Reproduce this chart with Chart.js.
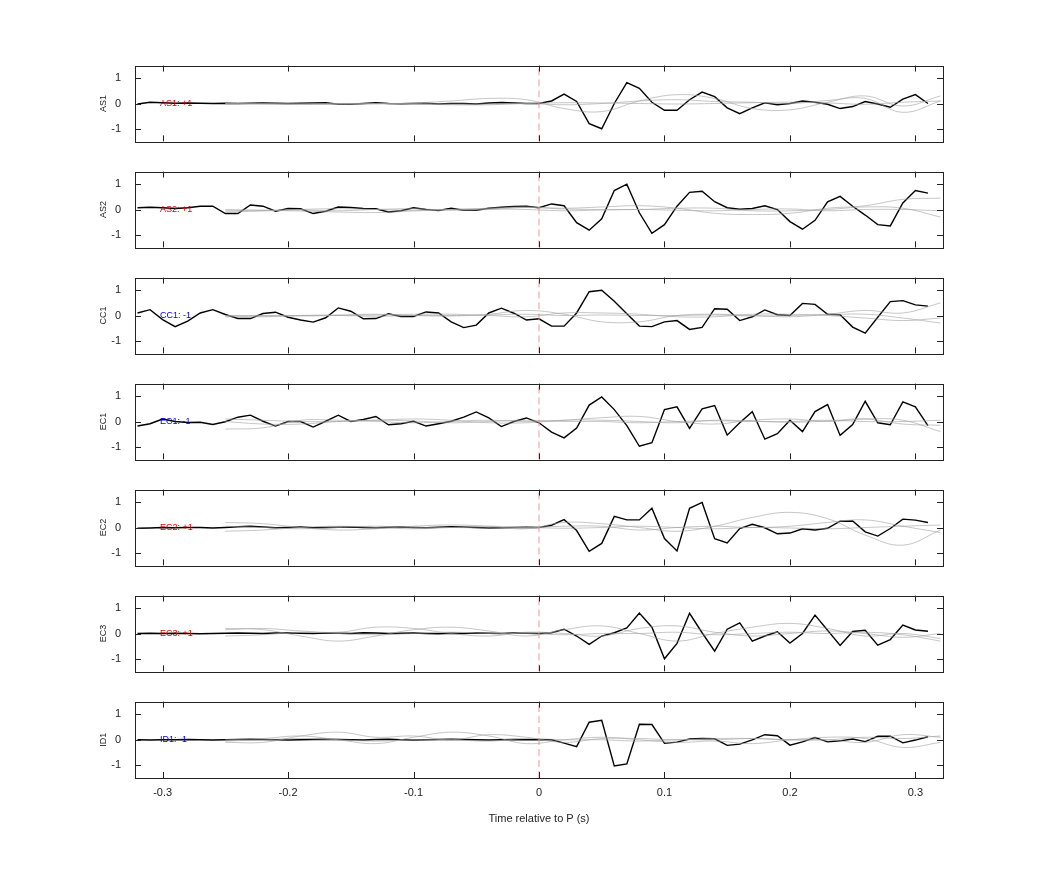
<!DOCTYPE html>
<html><head><meta charset="utf-8">
<script src="https://cdn.jsdelivr.net/npm/chart.js@4"></script>
<style>body{margin:0;background:#fff;width:1042px;height:875px;position:relative;overflow:hidden}
.p{position:absolute;left:0;width:1042px}</style></head><body>
<script>
const stations=["AS1","AS2","CC1","EC1","EC2","EC3","ID1"];
const polarity=["+1","+1","-1","-1","+1","+1","-1"];
const xTicks=[-0.3,-0.2,-0.1,0,0.1,0.2,0.3];
const yTicks=[-1,0,1];
const blackStart=-0.32, blackStep=0.01;
const grayT=[-0.25,-0.22,-0.19,-0.16,-0.13,-0.10,-0.07,-0.04,-0.01,0.02,0.05,0.08,0.11,0.14,0.17,0.20,0.23,0.26,0.29,0.32];

const AS1=[-0.02,0.05,0.03,0.01,0.02,0.01,0.0,0.01,0.0,0.01,0.02,0.01,0.0,0.01,0.02,0.03,-0.03,-0.03,0.0,0.03,0.0,-0.01,0.0,0.01,-0.02,0.0,0.0,-0.02,0.02,0.04,0.02,0.0,
 0.0,0.1,0.37,0.08,-0.8,-1.0,0.0,0.83,0.6,0.05,-0.27,-0.27,0.15,0.45,0.27,-0.17,-0.4,-0.17,0.03,-0.05,0.0,0.1,0.05,-0.03,-0.2,-0.12,0.08,-0.02,-0.15,0.17,0.35,0.0];
const AS2=[0.07,0.09,0.07,0.04,0.07,0.13,0.13,-0.16,-0.16,0.18,0.13,-0.07,0.04,0.03,-0.16,-0.07,0.1,0.08,0.04,0.03,-0.1,-0.05,0.07,0.0,-0.04,0.05,-0.03,-0.03,0.05,0.09,0.12,0.13,
 0.07,0.22,0.15,-0.52,-0.82,-0.37,0.75,1.0,-0.13,-0.94,-0.6,0.13,0.68,0.72,0.31,0.07,0.01,0.04,0.15,0.0,-0.48,-0.78,-0.43,0.3,0.52,0.13,-0.22,-0.6,-0.65,0.26,0.75,0.65];
const CC1=[0.1,0.23,-0.16,-0.44,-0.22,0.1,0.23,0.04,-0.12,-0.12,0.08,0.13,-0.07,-0.18,-0.26,-0.09,0.3,0.17,-0.13,-0.12,0.07,-0.04,-0.04,0.14,0.1,-0.25,-0.48,-0.38,0.1,0.29,0.09,-0.18,
 -0.13,-0.42,-0.42,0.1,0.94,1.0,0.56,0.07,-0.42,-0.44,-0.25,-0.2,-0.55,-0.47,0.27,0.25,-0.2,-0.05,0.22,0.03,0.0,0.48,0.44,0.05,0.03,-0.46,-0.7,-0.07,0.55,0.59,0.42,0.37];
const EC1=[-0.18,-0.09,0.1,0.0,-0.04,-0.03,-0.12,-0.01,0.17,0.25,0.01,-0.18,0.0,0.0,-0.22,0.01,0.25,0.0,0.08,0.2,-0.13,-0.09,0.01,-0.18,-0.09,0.01,0.17,0.38,0.14,-0.2,0.0,0.14,
 -0.05,-0.42,-0.65,-0.26,0.65,0.97,0.47,-0.16,-0.98,-0.84,0.47,0.58,-0.27,0.5,0.63,-0.54,-0.05,0.39,-0.7,-0.48,0.05,-0.4,0.39,0.67,-0.55,-0.12,0.8,-0.05,-0.13,0.78,0.58,-0.16];
const EC2=[-0.03,-0.02,0.0,-0.01,0.0,0.0,-0.02,0.0,0.03,0.05,0.02,-0.01,0.0,0.02,-0.01,0.0,0.01,0.02,0.0,-0.01,0.01,0.02,0.0,-0.01,0.01,0.03,0.02,0.0,-0.02,-0.01,0.0,0.01,
 0.0,0.09,0.31,-0.12,-0.94,-0.63,0.44,0.3,0.3,0.76,-0.44,-0.93,0.76,0.99,-0.44,-0.61,-0.04,0.13,-0.01,-0.25,-0.22,-0.05,-0.1,-0.03,0.25,0.26,-0.17,-0.34,-0.04,0.33,0.29,0.2];
const EC3=[0.0,0.01,0.0,0.01,0.0,-0.01,0.0,0.01,0.02,0.01,0.0,0.02,0.03,0.01,0.0,0.02,0.01,0.0,0.03,0.02,0.0,0.01,0.02,0.0,-0.01,0.01,0.0,0.02,0.01,0.0,0.02,0.01,
 0.0,0.03,0.17,-0.1,-0.43,-0.1,0.03,0.22,0.81,0.25,-1.0,-0.39,0.8,0.03,-0.7,0.17,0.42,-0.3,-0.1,0.07,-0.38,0.0,0.73,0.13,-0.47,0.08,0.13,-0.46,-0.24,0.33,0.14,0.09];
const ID1=[0.0,-0.01,0.0,0.0,0.01,0.0,-0.01,0.0,0.01,0.02,0.01,0.0,-0.01,0.0,0.01,0.02,0.01,0.0,-0.01,0.01,0.02,0.0,-0.01,0.0,0.01,0.02,0.01,0.0,-0.01,0.0,0.01,0.0,
 0.0,0.0,-0.13,-0.27,0.69,0.77,-1.03,-0.95,0.61,0.6,-0.14,-0.09,0.03,0.05,0.04,-0.22,-0.17,0.0,0.2,0.16,-0.21,-0.08,0.09,-0.08,-0.04,0.03,-0.07,0.14,0.14,-0.12,-0.01,0.12];

const AS1_g1=[0.0,-0.02,-0.03,-0.03,-0.02,0.02,0.1,0.2,0.15,-0.2,-0.32,0.1,0.35,0.2,-0.2,-0.25,0.05,0.3,-0.1,0.3];
const AS1_g2=[0.0,0.0,-0.01,0.0,0.0,-0.02,-0.05,-0.05,0.0,-0.05,0.0,0.1,0.15,0.08,0.05,0.0,0.12,0.2,-0.35,0.1];
const AS1_g3=[-0.02,-0.02,-0.03,-0.02,0.0,0.0,-0.02,-0.02,0.0,0.03,0.02,0.0,-0.02,0.0,0.03,0.05,0.02,-0.03,0.05,0.1];
const AS2_g1=[0.0,-0.03,-0.06,-0.1,-0.12,-0.06,0.0,0.05,0.1,0.05,0.1,0.15,0.05,-0.15,-0.2,-0.15,0.05,0.15,0.4,0.45];
const AS2_g2=[-0.05,-0.03,-0.02,-0.05,0.0,0.03,-0.03,0.0,0.08,0.02,0.0,0.0,0.05,0.05,-0.05,-0.05,0.0,0.1,0.05,-0.3];
const AS2_g3=[-0.1,-0.06,0.0,0.03,0.0,-0.03,0.0,0.02,0.0,-0.05,-0.02,0.0,-0.03,-0.05,0.0,0.02,-0.05,0.0,0.0,-0.05];
const CC1_g1=[0.0,-0.02,0.0,0.02,0.05,0.0,-0.02,0.05,0.2,0.05,-0.25,-0.25,0.0,0.05,0.0,-0.05,0.05,0.2,0.1,0.5];
const CC1_g2=[-0.02,0.0,-0.02,0.0,0.02,0.05,0.05,0.0,-0.05,0.1,0.1,0.05,-0.05,-0.05,0.05,0.05,0.0,-0.1,-0.2,-0.1];
const CC1_g3=[-0.05,-0.05,0.0,0.0,-0.03,0.0,0.0,0.02,0.05,0.0,0.02,0.0,0.0,0.02,-0.02,0.0,0.03,0.05,-0.1,-0.3];
const EC1_g1=[-0.3,-0.25,0.05,0.05,0.0,-0.05,0.0,0.05,0.0,0.05,0.15,0.2,0.0,-0.1,0.05,0.1,0.0,0.1,0.05,-0.4];
const EC1_g2=[0.1,0.05,0.0,0.0,0.05,0.1,0.05,-0.05,-0.05,0.05,0.05,0.0,-0.05,0.05,0.02,-0.03,0.02,0.1,-0.1,-0.15];
const EC1_g3=[0.0,-0.1,-0.1,0.0,0.05,0.02,-0.05,0.0,0.05,0.0,0.0,-0.05,0.0,0.03,0.0,0.0,0.05,0.0,0.0,0.05];
const EC2_g1=[0.2,0.15,0.0,-0.1,-0.05,0.05,0.1,0.05,-0.05,0.2,0.15,0.0,-0.15,0.05,0.4,0.6,0.35,-0.3,-0.7,-0.1];
const EC2_g2=[-0.15,-0.1,0.0,0.05,0.0,-0.05,0.0,0.05,0.0,0.05,0.05,-0.1,0.0,0.05,0.0,0.05,0.2,0.3,0.05,-0.2];
const EC2_g3=[0.05,0.0,-0.05,0.0,0.05,0.0,0.0,-0.02,0.0,-0.03,0.0,0.05,0.0,-0.05,0.0,-0.02,-0.05,0.0,0.05,0.1];
const EC3_g1=[0.2,0.15,-0.1,-0.3,-0.1,0.15,0.25,0.1,-0.1,0.15,0.3,0.0,-0.3,0.0,0.25,0.4,0.2,-0.1,0.0,-0.2];
const EC3_g2=[0.15,0.2,0.1,0.05,0.25,0.2,0.0,-0.1,0.05,0.0,-0.1,0.2,0.3,0.05,-0.1,0.0,0.1,0.0,-0.15,0.0];
const EC3_g3=[-0.1,-0.05,0.05,0.0,-0.05,0.0,0.05,0.0,0.0,-0.05,0.0,0.0,0.05,-0.05,0.0,0.05,0.0,0.05,-0.05,-0.3];
const ID1_g1=[0.0,0.05,0.15,0.0,-0.15,0.1,0.3,0.15,-0.15,0.0,0.1,0.0,-0.1,-0.05,-0.15,0.0,0.1,0.05,-0.3,-0.1];
const ID1_g2=[-0.1,-0.1,0.15,0.3,0.1,0.15,0.0,0.2,0.1,-0.1,0.05,0.05,0.0,0.05,0.05,0.0,0.0,-0.1,0.2,0.1];
const ID1_g3=[-0.05,0.0,0.05,0.0,-0.05,0.0,0.0,-0.05,0.05,0.0,0.0,-0.05,0.0,0.0,0.05,0.0,0.0,0.1,0.05,0.15];

const blacks=[AS1,AS2,CC1,EC1,EC2,EC3,ID1];
const grays=[[AS1_g1,AS1_g2,AS1_g3],[AS2_g1,AS2_g2,AS2_g3],[CC1_g1,CC1_g2,CC1_g3],[EC1_g1,EC1_g2,EC1_g3],[EC2_g1,EC2_g2,EC2_g3],[EC3_g1,EC3_g2,EC3_g3],[ID1_g1,ID1_g2,ID1_g3]];
const FONT='"Liberation Sans", Arial, sans-serif';

const frame={id:'frame',afterDraw(c,a,o){
  const ctx=c.ctx,ca=c.chartArea,sx=c.scales.x,sy=c.scales.y;
  ctx.save();ctx.strokeStyle='#222';ctx.lineWidth=1;
  ctx.strokeRect(Math.round(ca.left)+0.5,Math.round(ca.top)+0.5,Math.round(ca.right-ca.left),Math.round(ca.bottom-ca.top));
  ctx.beginPath();
  xTicks.forEach(v=>{const x=Math.round(sx.getPixelForValue(v))+0.5;ctx.moveTo(x,ca.top);ctx.lineTo(x,ca.top+6);ctx.moveTo(x,ca.bottom);ctx.lineTo(x,ca.bottom-6);});
  yTicks.forEach(v=>{const y=Math.round(sy.getPixelForValue(v))+0.5;ctx.moveTo(ca.left,y);ctx.lineTo(ca.left+6,y);ctx.moveTo(ca.right,y);ctx.lineTo(ca.right-6,y);});
  ctx.stroke();
  ctx.fillStyle=o.color;ctx.font='9px '+FONT;ctx.textBaseline='middle';ctx.textAlign='left';
  ctx.fillText(o.label,sx.getPixelForValue(-0.302),sy.getPixelForValue(0));
  ctx.fillStyle='#222';ctx.save();ctx.translate(104,(ca.top+ca.bottom)/2);ctx.rotate(-Math.PI/2);ctx.textAlign='center';ctx.fillText(o.name,0,0);ctx.restore();
  ctx.restore();}};

const tops=[66,172,278,384,490,596,702];
stations.forEach((s,i)=>{
  const last=i===6;
  const d=document.createElement('div');d.className='p';
  const h=last?141:101;d.style.top=(tops[i]-13)+'px';d.style.height=h+'px';
  const cv=document.createElement('canvas');d.appendChild(cv);document.body.appendChild(d);
  const ds=[];
  grays[i].forEach(g=>ds.push({data:grayT.map((t,j)=>({x:t,y:g[j]})),borderColor:'rgba(160,160,160,0.6)',borderWidth:1,tension:0.4,pointRadius:0}));
  ds.push({data:[{x:0,y:-1.5},{x:0,y:1.5}],borderColor:'#e99',borderWidth:1,borderDash:[7,4],pointRadius:0});
  ds.push({data:blacks[i].map((v,j)=>({x:blackStart+j*blackStep,y:v})),borderColor:'#000',borderWidth:1.4,pointRadius:0,tension:0});
  new Chart(cv,{type:'line',data:{datasets:ds},
    options:{responsive:true,maintainAspectRatio:false,animation:false,
      layout:{padding:{top:8,right:99,left:0,bottom:0}},
      plugins:{legend:{display:false},tooltip:{enabled:false},frame:{label:s+': '+polarity[i],name:s,color:polarity[i]==='+1'?'#d00':'#00d'}},
      scales:{
        x:{type:'linear',min:-0.322,max:0.322,afterBuildTicks:a=>{a.ticks=xTicks.map(v=>({value:v}));},
           afterFit:a=>{a.height=last?52:10;},
           grid:{display:false},border:{display:false},
           ticks:{display:last,color:'#222',font:{family:FONT,size:11},padding:0,maxRotation:0,callback:v=>v===0?'0':String(v)},
           title:{display:last,text:'Time relative to P (s)',color:'#222',font:{family:FONT,size:11},padding:{top:6}}},
        y:{min:-1.5,max:1.5,afterBuildTicks:a=>{a.ticks=yTicks.map(v=>({value:v}));},
           afterFit:a=>{a.width=135;},grid:{display:false},border:{display:false},
           ticks:{color:'#222',font:{family:FONT,size:11},padding:6}}}},
    plugins:[frame]});
});
</script></body></html>
